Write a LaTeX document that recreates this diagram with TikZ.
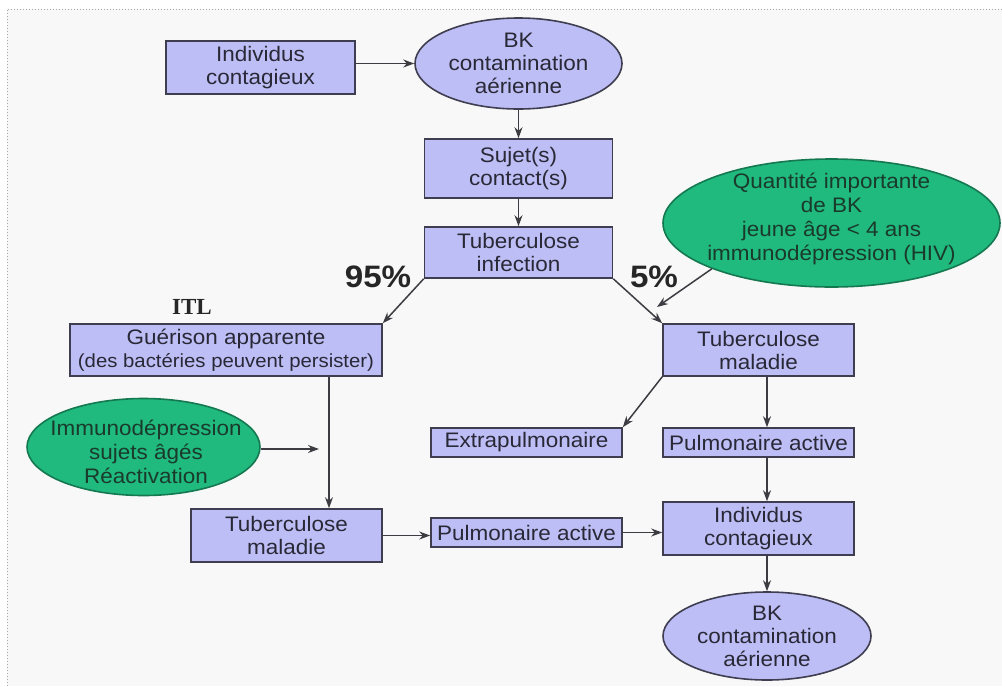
\documentclass[tikz,border=0pt]{standalone}
\usepackage{fontspec}
\setmainfont{Liberation Sans}[FakeStretch=1.07]
\newfontfamily\itlfont{Liberation Serif}
\usetikzlibrary{shapes.geometric,arrows.meta}
\definecolor{boxfill}{RGB}{190,190,246}
\definecolor{boxline}{RGB}{62,62,80}
\definecolor{txt}{RGB}{40,40,54}
\definecolor{greenf}{RGB}{32,185,126}
\definecolor{greenl}{RGB}{20,120,80}
\definecolor{greent}{RGB}{26,58,44}
\definecolor{linec}{RGB}{60,60,66}
\definecolor{bg}{RGB}{248,248,248}
\begin{document}
\begin{tikzpicture}[x=1pt,y=-1pt,
  box/.style={rectangle, draw=boxline, line width=1.6pt, fill=boxfill, text=txt, inner sep=0pt, align=center, font=\fontsize{21}{23}\selectfont},
  bkell/.style={ellipse, draw=boxline, line width=1.6pt, fill=boxfill, inner sep=0pt},
  bktext/.style={text=txt, inner sep=0pt, align=center, font=\fontsize{21}{23}\selectfont},
  gell/.style={ellipse, draw=greenl, line width=1.6pt, fill=greenf, inner sep=0pt},
  gtext/.style={text=greent, inner sep=0pt, align=center, font=\fontsize{21}{24}\selectfont},
  arr/.style={draw=linec, line width=1.5pt, -{Stealth[length=11pt,width=8pt]}},
  pct/.style={font=\fontsize{31}{31}\selectfont\bfseries, text=black!85, inner sep=0pt}
]
\useasboundingbox (0,0) rectangle (1002,686);
\fill[white] (0,0) rectangle (1002,686);
\fill[bg] (7,9) rectangle (1002,686);
\draw[gray!70, dotted, line width=1pt] (7,686) -- (7,9) -- (1002,9);

% nodes
\node[box, minimum width=189pt, minimum height=53pt] (ind1) at (260.5,67.5) {Individus\\contagieux};
\node[bkell, minimum width=207pt, minimum height=91pt] (bk1) at (518.5,63.5) {};
\node[bktext] (bk1t) at (bk1.center) {BK\\contamination\\aérienne};
\node[box, minimum width=188pt, minimum height=59pt] (sujet) at (518.5,168.5) {Sujet(s)\\contact(s)};
\node[box, minimum width=188pt, minimum height=51pt] (tubinf) at (518.5,252.5) {Tuberculose\\infection};
\node[gell, minimum width=337pt, minimum height=128pt] (green1) at (831.5,223) {};
\node[gtext] (green1t) at (831.5,219) {Quantité importante\\de BK\\jeune âge < 4 ans\\immunodépression (HIV)};
\node[pct] (p95) at (378,277) {95\%};
\node[pct] (p5) at (654,277) {5\%};
\node[font=\fontsize{23}{23}\selectfont\itlfont\bfseries, text=black!85, inner sep=0pt] (itl) at (192,307) {ITL};
\node[box, minimum width=312pt, minimum height=52pt] (guer) at (226,350) {Guérison apparente\\{\fontsize{19}{22}\selectfont (des bactéries peuvent persister)}};
\node[box, minimum width=191pt, minimum height=52pt] (tubmal1) at (758.5,350) {Tuberculose\\maladie};
\node[gell, minimum width=233pt, minimum height=97pt] (green2) at (143.5,447) {};
\node[gtext] (green2t) at (146,452) {Immunodépression\\sujets âgés\\Réactivation};
\node[box, minimum width=191pt, minimum height=29pt] (extra) at (526.5,442.5) {Extrapulmonaire};
\node[box, minimum width=191pt, minimum height=29pt] (pulm1) at (758.5,442.5) {Pulmonaire active};
\node[box, minimum width=191pt, minimum height=53pt] (tubmal2) at (286.5,535.5) {Tuberculose\\maladie};
\node[box, minimum width=191pt, minimum height=29pt] (pulm2) at (526.5,532.5) {Pulmonaire active};
\node[box, minimum width=191pt, minimum height=53pt] (ind2) at (758.5,528.5) {Individus\\contagieux};
\node[bkell, minimum width=208pt, minimum height=88pt] (bk2) at (767,636) {};
\node[bktext] (bk2t) at (bk2.center) {BK\\contamination\\aérienne};

\coordinate (vx) at (329,0);
\coordinate (g2end) at (319,449);
\coordinate (g1end) at (657,307);

% connectors
\draw[arr] (ind1.east |- bk1.west) -- (bk1.west);
\draw[arr] (bk1.south) -- (sujet.north);
\draw[arr] (sujet.south) -- (tubinf.north);
\draw[arr] (tubinf.south west) -- (guer.north east);
\draw[arr] (tubinf.south east) -- (tubmal1.north west);
\draw[arr] (green1.south west) -- (g1end);
\draw[arr] (guer.south -| vx) -- (tubmal2.north -| vx);
\draw[arr] (green2.east |- g2end) -- (g2end);
\draw[arr] (tubmal1.south west) -- (extra.north east);
\draw[arr] (tubmal1.south -| bk2.north) -- (pulm1.north -| bk2.north);
\draw[arr] (pulm1.south -| bk2.north) -- (ind2.north -| bk2.north);
\draw[arr] (tubmal2.east) -- (pulm2.west |- tubmal2.east);
\draw[arr] (pulm2.east) -- (ind2.west |- pulm2.east);
\draw[arr] (ind2.south -| bk2.north) -- (bk2.north);
\end{tikzpicture}
\end{document}
